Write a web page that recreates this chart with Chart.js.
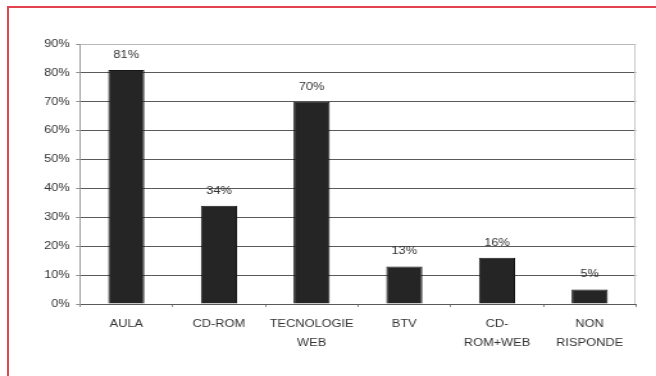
<!DOCTYPE html>
<html>
<head>
<meta charset="utf-8">
<script src="https://cdn.jsdelivr.net/npm/chart.js@4/dist/chart.umd.min.js"></script>
<style>
  html, body { margin: 0; padding: 0; background: #fff; }
  body { width: 656px; height: 376px; overflow: hidden; position: relative; }
  #frameTop { position: absolute; left: 7px; top: 6px; width: 649px; height: 2px; background: #e2434f; }
  #frameLeft { position: absolute; left: 7px; top: 6px; width: 2px; height: 370px; background: #e2434f; }
  #wrap { position: absolute; left: 0; top: 0; width: 512px; height: 376px;
          transform: scaleX(1.28125); transform-origin: 0 0; }
  canvas { display: block; }
</style>
</head>
<body>
<div id="wrap"><canvas id="c" width="512" height="376"></canvas></div>
<div id="frameTop"></div>
<div id="frameLeft"></div>
<script>
// Response categories (multi-line labels as arrays)
const categories = [
  'AULA',
  'CD-ROM',
  ['TECNOLOGIE', 'WEB'],
  'BTV',
  ['CD-', 'ROM+WEB'],
  ['NON', 'RISPONDE']
];
// Share of answers, in percent
const values = [81, 34, 70, 13, 16, 5];
// Value axis
const yMin = 0;
const yMax = 90;
const yStep = 10;

const TEXT = '#333';
const FONT = 'Liberation Sans, Arial, sans-serif';

// Writes each bar's percentage just above it
const valueLabels = {
  id: 'valueLabels',
  afterDatasetsDraw(chart) {
    const ctx = chart.ctx;
    const meta = chart.getDatasetMeta(0);
    ctx.save();
    ctx.fillStyle = TEXT;
    ctx.font = '10px ' + FONT;
    ctx.textAlign = 'center';
    ctx.textBaseline = 'middle';
    meta.data.forEach((bar, i) => {
      ctx.fillText(values[i] + '%', bar.x, bar.y - 15);
    });
    ctx.restore();
  }
};

// Thin light edge on the right side of the plot area
const plotEdge = {
  id: 'plotEdge',
  beforeDatasetsDraw(chart) {
    const { ctx, chartArea } = chart;
    ctx.save();
    ctx.strokeStyle = '#c8c8c8';
    ctx.lineWidth = 1;
    ctx.beginPath();
    ctx.moveTo(Math.round(chartArea.right) - 0.5, chartArea.top);
    ctx.lineTo(Math.round(chartArea.right) - 0.5, chartArea.bottom);
    ctx.stroke();
    ctx.restore();
  }
};

new Chart(document.getElementById('c'), {
  type: 'bar',
  data: {
    labels: categories,
    datasets: [{
      data: values,
      backgroundColor: '#252525',
      borderColor: '#151515',
      borderWidth: 1,
      categoryPercentage: 1,
      barPercentage: 0.39
    }]
  },
  options: {
    responsive: false,
    devicePixelRatio: 1,
    animation: false,
    layout: { padding: { top: 44, right: 15.6, left: 0, bottom: 0 } },
    plugins: {
      legend: { display: false },
      tooltip: { enabled: false }
    },
    scales: {
      x: {
        grid: {
          display: true,
          drawOnChartArea: false,
          drawTicks: true,
          tickLength: 3,
          color: '#8a8a8a',
          offset: true
        },
        border: { display: true, color: '#5a5a5a' },
        ticks: {
          color: TEXT,
          font: { family: FONT, size: 10, lineHeight: 1.9 },
          padding: 8,
          maxRotation: 0,
          autoSkip: false
        },
        afterFit(scale) { scale.height = 72; }
      },
      y: {
        min: yMin,
        max: yMax,
        grid: {
          color: (c) => (c.tick && c.tick.value === yMax ? '#b8b8b8' : '#5a5a5a'),
          tickColor: '#8a8a8a',
          tickLength: 3,
          drawTicks: true
        },
        border: { display: true, color: '#9a9a9a' },
        ticks: {
          stepSize: yStep,
          color: TEXT,
          font: { family: FONT, size: 10 },
          padding: 5,
          callback: (v) => v + '%'
        },
        afterFit(scale) { scale.width = 62.4; }
      }
    }
  },
  plugins: [plotEdge, valueLabels]
});
</script>
</body>
</html>
